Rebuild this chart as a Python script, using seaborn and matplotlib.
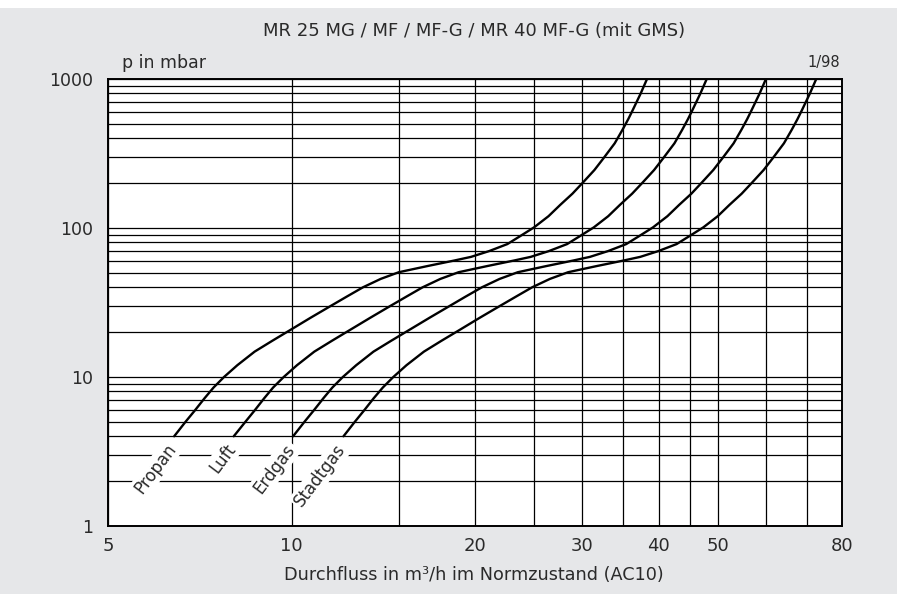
import matplotlib
matplotlib.use('Agg')
import matplotlib.pyplot as plt
import matplotlib.patches as mpatches
import pandas as pd
import seaborn as sns

# pressure levels (mbar), shared by all four gases
pressure = [4, 5, 6, 7.2, 8.5, 10, 12, 14.8, 17.5, 20.4, 25, 30, 34.5, 40, 45.5, 50.5, 55.5, 60.5, 64, 70,
            78, 88, 101, 120, 143, 170, 200, 245, 294, 370, 455, 540, 620, 800, 1000]

# flow (m3/h) at those pressures for each gas
propan = [6.42, 6.7, 6.95, 7.2, 7.45, 7.75, 8.15, 8.7, 9.3, 9.9, 10.75, 11.6, 12.3, 13.1, 14.0, 15.0, 16.7, 18.5,
          19.7, 21.1, 22.6, 23.7, 25.0, 26.4, 27.6, 28.9, 30.0, 31.4, 32.5, 33.9, 34.9, 35.7, 36.3, 37.4, 38.3]
luft = [8.04, 8.4, 8.71, 9.02, 9.33, 9.71, 10.21, 10.9, 11.65, 12.4, 13.47, 14.53, 15.41, 16.41, 17.54, 18.8,
        20.93, 23.18, 24.68, 26.44, 28.32, 29.7, 31.33, 33.08, 34.58, 36.21, 37.59, 39.34, 40.72, 42.48, 43.73,
        44.73, 45.48, 46.86, 47.99]
erdgas = [10.06, 10.5, 10.89, 11.28, 11.67, 12.14, 12.77, 13.63, 14.57, 15.51, 16.85, 18.18, 19.27, 20.53, 21.94,
          23.51, 26.17, 28.99, 30.87, 33.06, 35.41, 37.14, 39.18, 41.37, 43.25, 45.29, 47.01, 49.2, 50.93, 53.12,
          54.69, 55.94, 56.88, 58.61, 60.02]
stadtgas = [12.17, 12.7, 13.17, 13.64, 14.12, 14.69, 15.44, 16.49, 17.62, 18.76, 20.37, 21.98, 23.31, 24.82, 26.53,
            28.43, 31.65, 35.06, 37.33, 39.98, 42.83, 44.91, 47.38, 50.03, 52.3, 54.77, 56.85, 59.5, 61.59, 64.24,
            66.14, 67.65, 68.79, 70.87, 72.58]

gases = ['Propan', 'Luft', 'Erdgas', 'Stadtgas']
flows = [propan, luft, erdgas, stadtgas]

x_labels = [5, 10, 20, 30, 40, 50, 80]
x_minor = [15, 25, 35, 45, 60, 70]
y_labels = [1, 10, 100, 1000]

rows = []
for gas, fl in zip(gases, flows):
    for q, p in zip(fl, pressure):
        rows.append({'gas': gas, 'flow': q, 'p': p})
df = pd.DataFrame(rows)

sns.set_theme(style='white')
plt.rcParams['font.family'] = ['DejaVu Sans']
txt = '#2a2a2a'

fig = plt.figure(figsize=(8.99, 5.94), dpi=100, facecolor='white')
fig.patches.append(mpatches.Rectangle((0, 0), 897 / 899, 586 / 594, transform=fig.transFigure,
                                      facecolor='#e6e7e9', edgecolor='none', zorder=-10))
ax = fig.add_axes([108 / 899, 1 - 526 / 594, 734 / 899, 447 / 594])
ax.set_facecolor('white')

for gas in gases:
    sub = df[df['gas'] == gas]
    sns.lineplot(data=sub, x='flow', y='p', ax=ax, color='black', linewidth=1.7,
                 estimator=None, sort=False, legend=False, zorder=3)

ax.set_xscale('log')
ax.set_yscale('log')
ax.set_xlim(5, 80)
ax.set_ylim(1, 1000)

ax.set_xticks(x_labels)
ax.set_xticklabels([str(v) for v in x_labels])
ax.set_xticks(x_minor, minor=True)
ax.set_yticks(y_labels)
ax.set_yticklabels([str(v) for v in y_labels])
ax.set_yticks([m * 10 ** e for e in range(3) for m in range(2, 10)], minor=True)
ax.tick_params(which='both', length=0, colors=txt)
ax.tick_params(axis='x', labelsize=13, pad=8)
ax.tick_params(axis='y', labelsize=12.5, pad=11)
ax.xaxis.set_minor_formatter(matplotlib.ticker.NullFormatter())
ax.yaxis.set_minor_formatter(matplotlib.ticker.NullFormatter())
ax.grid(True, which='both', color='black', linewidth=0.9)

for s in ax.spines.values():
    s.set_color('black')
    s.set_linewidth(1.4)

ax.set_xlabel('')
ax.set_ylabel('')

# gas names, rotated, just below the start of each curve
for gas, fl in zip(gases, flows):
    ax.text(fl[0] * 0.995, 3.45, gas, rotation=53, rotation_mode='anchor', ha='right', va='center',
            fontsize=12, color=txt, zorder=4,
            bbox=dict(facecolor='white', edgecolor='none', pad=1.5))

fig.text(474 / 899, 1 - 31 / 594, 'MR 25 MG / MF / MF-G / MR 40 MF-G (mit GMS)', ha='center', va='center',
         fontsize=13, color=txt)
fig.text(122 / 899, 1 - 63 / 594, 'p in mbar', ha='left', va='center', fontsize=12.5, color=txt)
fig.text(840 / 899, 1 - 63 / 594, '1/98', ha='right', va='center', fontsize=10.5, color=txt)
fig.text(474 / 899, 1 - 575 / 594, 'Durchfluss in m³/h im Normzustand (AC10)', ha='center', va='center',
         fontsize=12.7, color=txt)

fig.savefig('out.png', dpi=100, facecolor='white')
